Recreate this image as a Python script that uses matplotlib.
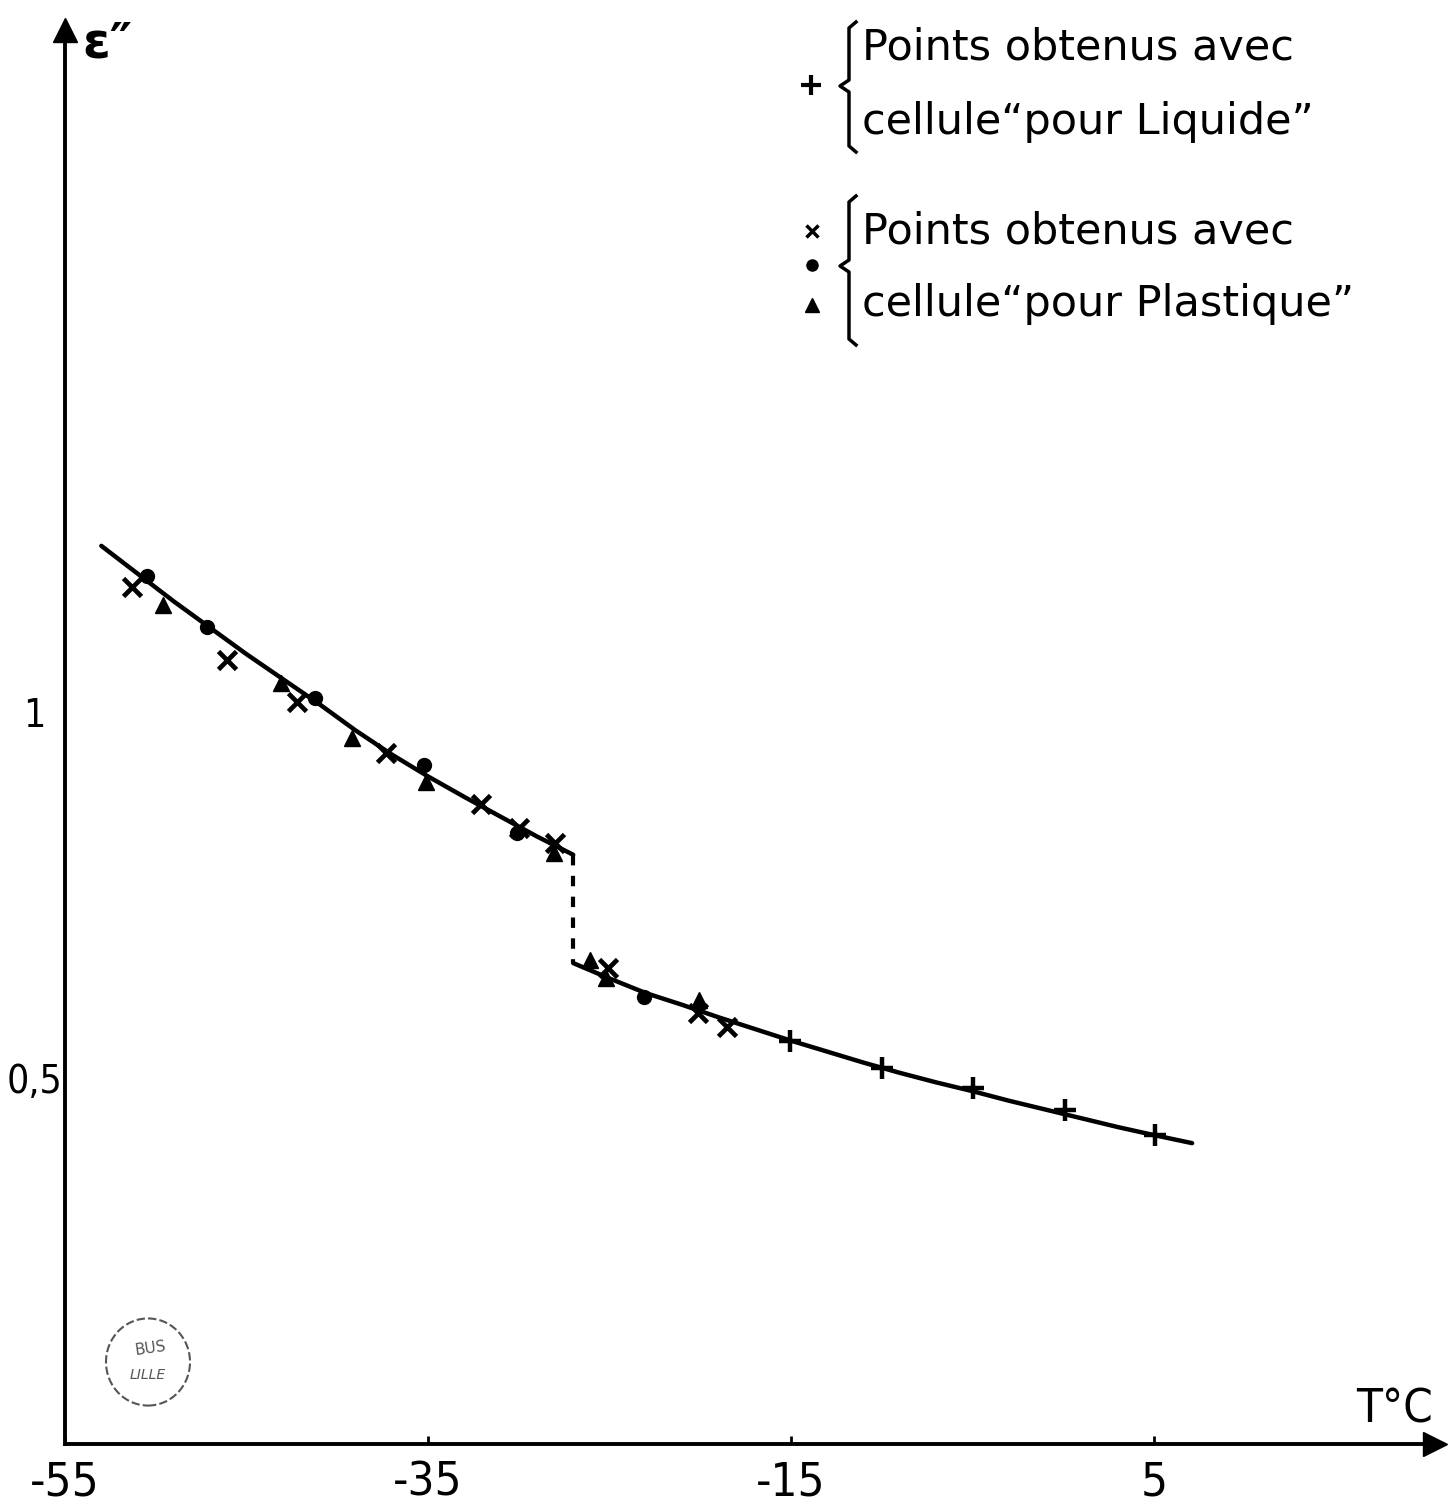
import numpy as np
import matplotlib
matplotlib.use("Agg")
import matplotlib.pyplot as plt
from matplotlib.lines import Line2D
from matplotlib.patches import Circle

# fitted curves
upper_T = [-53, -51, -49, -47, -45, -43, -41, -39, -37, -35, -33, -31, -29, -27]
upper_e = [1.227, 1.189, 1.151, 1.115, 1.079, 1.045, 1.011, 0.975, 0.942, 0.912,
           0.884, 0.857, 0.830, 0.805]
lower_T = [-27, -25, -23, -21, -19, -17, -15, -13, -11, -9, -7, -5, -3, -1, 1, 3, 5, 7.1]
lower_e = [0.657, 0.636, 0.616, 0.600, 0.583, 0.567, 0.551, 0.536, 0.521, 0.507,
           0.494, 0.482, 0.469, 0.457, 0.445, 0.433, 0.422, 0.411]
jump_T = -27.0

# cellule pour liquide (+)
liq_T = [-15.05, -10.0, -5.0, 0.1, 5.06]
liq_e = [0.550, 0.513, 0.486, 0.456, 0.422]

# cellule pour plastique (x, dot, triangle)
cross_T = [-51.3, -46.1, -42.2, -37.3, -32.1, -30.0, -28.0, -25.07, -20.1, -18.5]
cross_e = [1.171, 1.071, 1.014, 0.944, 0.875, 0.841, 0.821, 0.650, 0.589, 0.570]
dot_T = [-50.5, -47.2, -41.2, -35.2, -30.1, -23.1]
dot_e = [1.186, 1.116, 1.019, 0.928, 0.835, 0.611]
tri_T = [-49.6, -43.1, -39.2, -35.1, -28.06, -26.1, -25.2, -20.05]
tri_e = [1.146, 1.040, 0.964, 0.905, 0.807, 0.661, 0.637, 0.607]

xticks = [-55, -35, -15, 5]
xticklabels = ["-55", "-35", "-15", "5"]
yticks = [0.5, 1.0]
yticklabels = ["0,5", "1"]

W, H = 1450, 1504


def fx(px):
    return px / W


def fy(py):
    return 1 - py / H


fig = plt.figure(figsize=(W / 100, H / 100), dpi=100)
ax = fig.add_axes([fx(65), 60 / H, (1435 - 65) / W, (1444 - 30) / H])
ax.set_xlim(-55, -55 + 1370 / 18.15)
ax.set_ylim(0, 1414 / 732)

for s in ["top", "right"]:
    ax.spines[s].set_visible(False)
for s in ["left", "bottom"]:
    ax.spines[s].set_linewidth(2.8)
ax.plot(1, 0, ">k", markersize=17, transform=ax.transAxes, clip_on=False)
ax.plot(0, 1, "^k", markersize=17, transform=ax.transAxes, clip_on=False)

ax.set_xticks(xticks)
ax.set_xticklabels(xticklabels, fontsize=34, fontstretch="condensed")
ax.set_yticks(yticks)
ax.set_yticklabels(yticklabels, fontsize=28, fontstretch="condensed", ha="center")
ax.tick_params(axis="x", direction="in", length=6, width=2, pad=12)
ax.tick_params(axis="y", length=0, pad=22)

# curves
ax.plot(upper_T, upper_e, color="k", lw=3.2, solid_capstyle="round")
ax.plot(lower_T, lower_e, color="k", lw=3.2, solid_capstyle="round")
ax.plot([jump_T, jump_T], [upper_e[-1], lower_e[0]], color="k", lw=3,
        dashes=(2.5, 2.5))

# measurement points
ax.plot(liq_T, liq_e, "+", color="k", markersize=16, mew=3.2, ls="none")
ax.plot(cross_T, cross_e, "x", color="k", markersize=13, mew=3.4, ls="none")
ax.plot(dot_T, dot_e, "o", color="k", markersize=10, ls="none")
ax.plot(tri_T, tri_e, "^", color="k", markersize=12, ls="none")

# axis titles
fig.text(fx(82), fy(44), "ε″", fontsize=36, fontweight="bold", va="center", ha="left")
fig.text(fx(1395), fy(1410), "T°C", fontsize=34, fontstretch="condensed",
         va="center", ha="center")

# legend with braces
def brace(y0, y1, ymid):
    xs = [856, 849, 849, 840, 849, 849, 856]
    ys = [y0, y0 + 6, ymid - 6, ymid, ymid + 6, y1 - 6, y1]
    fig.add_artist(Line2D([fx(v) for v in xs], [fy(v) for v in ys],
                          color="k", lw=2.5, transform=fig.transFigure))

brace(22, 152, 86)
brace(196, 345, 266)

lfont = dict(fontsize=31, va="center", ha="left", family="DejaVu Sans")
fig.text(fx(862), fy(48), "Points obtenus avec", **lfont)
fig.text(fx(862), fy(122), "cellule“pour Liquide”", **lfont)
fig.text(fx(862), fy(232), "Points obtenus avec", **lfont)
fig.text(fx(862), fy(304), "cellule“pour Plastique”", **lfont)

fig.add_artist(Line2D([fx(811)], [fy(85)], marker="+", color="k", markersize=14,
                      mew=3, transform=fig.transFigure))
fig.add_artist(Line2D([fx(812)], [fy(231)], marker="x", color="k", markersize=9,
                      mew=2.5, transform=fig.transFigure))
fig.add_artist(Line2D([fx(812)], [fy(265)], marker="o", color="k", markersize=8,
                      transform=fig.transFigure))
fig.add_artist(Line2D([fx(812)], [fy(305)], marker="^", color="k", markersize=10,
                      transform=fig.transFigure))

# library stamp
fig.add_artist(Circle((fx(148), fy(1362)), 42 / W, transform=fig.transFigure,
                      fill=False, ec="#555555", lw=1.5, ls=(0, (4, 1.5))))
fig.text(fx(150), fy(1348), "BUS", fontsize=11, color="#555555", ha="center", va="center",
         rotation=8)
fig.text(fx(148), fy(1375), "LILLE", fontsize=10, color="#555555", ha="center", va="center",
         style="italic")

fig.savefig("out.png", dpi=100, facecolor="white")
